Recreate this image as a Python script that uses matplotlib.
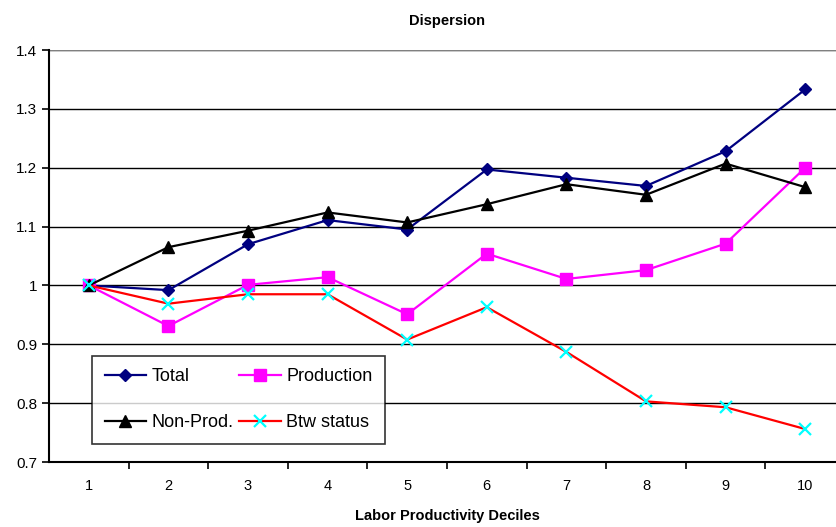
import numpy as np
import matplotlib.pyplot as plt

plt.rcParams['font.family'] = ['Liberation Sans', 'DejaVu Sans']

deciles = list(range(1, 11))
total = [1.000, 0.992, 1.070, 1.111, 1.095, 1.197, 1.183, 1.169, 1.228, 1.333]
production = [1.000, 0.931, 1.001, 1.014, 0.951, 1.054, 1.011, 1.026, 1.071, 1.200]
non_prod = [1.000, 1.065, 1.093, 1.124, 1.107, 1.138, 1.172, 1.154, 1.207, 1.167]
btw_status = [1.000, 0.969, 0.985, 0.985, 0.908, 0.963, 0.887, 0.803, 0.793, 0.756]

fig = plt.figure(figsize=(8.37, 5.27), dpi=100)
ax = fig.add_axes([49 / 837, 65 / 527, 796 / 837, 412 / 527])

h_total, = ax.plot(deciles, total, '-D', color='#000080', lw=1.6, ms=6.5, label='Total')
h_prod, = ax.plot(deciles, production, '-s', color='#ff00ff', lw=1.6, ms=8.5, label='Production')
h_non, = ax.plot(deciles, non_prod, '-^', color='black', lw=1.6, ms=8, label='Non-Prod.')
h_btw, = ax.plot(deciles, btw_status, '-', color='red', lw=1.6, marker='x', ms=8,
                 mec='#00ffff', mew=1.6, label='Btw status')

ax.set_ylim(0.7, 1.4)
ax.set_yticks(np.arange(0.7, 1.41, 0.1))
ax.set_yticklabels(['0.7', '0.8', '0.9', '1', '1.1', '1.2', '1.3', '1.4'])
ax.yaxis.grid(True, color='black', lw=1)
ax.set_axisbelow(True)

ax.set_xlim(0.5, 10.5)
ax.set_xticks(deciles)
ax.set_xticks(np.arange(1.5, 10.5, 1), minor=True)
ax.tick_params(axis='x', which='major', length=0, pad=12, labelsize=10.5)
ax.tick_params(axis='x', which='minor', length=5, width=1.2, direction='out')
ax.tick_params(axis='y', length=5, width=1.2, direction='out', labelsize=11)

for side in ['top', 'right']:
    ax.spines[side].set_visible(False)
ax.spines['left'].set_linewidth(1.5)
ax.spines['bottom'].set_linewidth(1.5)
ax.axhline(1.4, color='#808080', lw=1.5)

ax.set_title('Dispersion', fontsize=10.5, fontweight='bold', pad=18)
ax.set_xlabel('Labor Productivity Deciles', fontsize=10.5, fontweight='bold', labelpad=12)

# legend is filled column by column, so order handles to read row-wise
leg = ax.legend([h_total, h_non, h_prod, h_btw],
                ['Total', 'Non-Prod.', 'Production', 'Btw status'],
                ncol=2, loc='lower left', bbox_to_anchor=(43 / 796, 18 / 412, 293 / 796, 88 / 412),
                mode='expand', fontsize=13, frameon=True, fancybox=False,
                edgecolor='black', handlelength=2.3, handletextpad=0.3,
                columnspacing=0.8, labelspacing=1.6, borderaxespad=0, borderpad=0.7)
leg.get_frame().set_linewidth(1.2)

fig.savefig('out.png', dpi=100)
